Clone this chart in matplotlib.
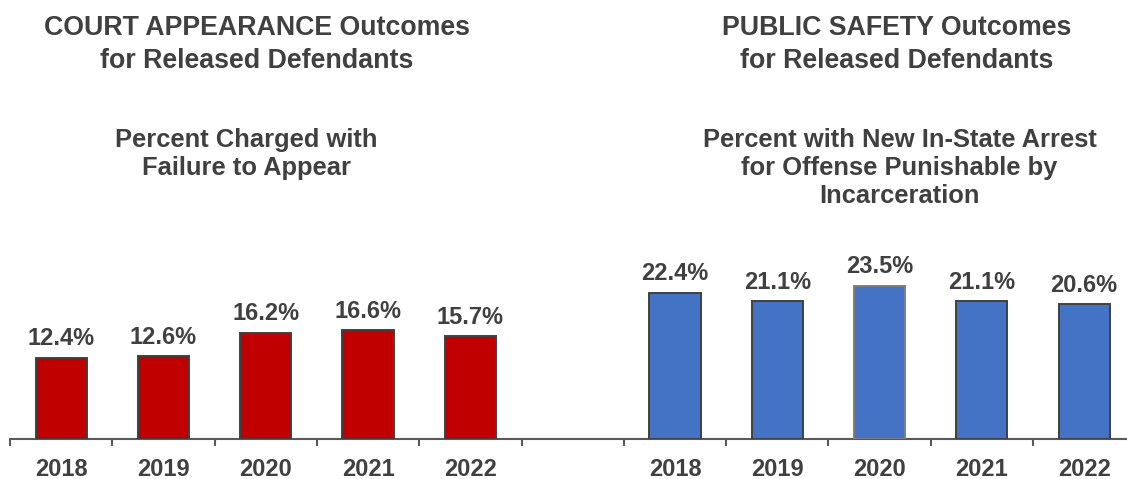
import numpy as np
import matplotlib
matplotlib.use("Agg")
import matplotlib.pyplot as plt

# Data
years = ["2018", "2019", "2020", "2021", "2022"]
fta_rates = [12.4, 12.6, 16.2, 16.6, 15.7]          # percent charged with failure to appear
arrest_rates = [22.4, 21.1, 23.5, 21.1, 20.6]       # percent with new in-state arrest

left_title = ["COURT APPEARANCE Outcomes", "for Released Defendants"]
left_sub = ["Percent Charged with", "Failure to Appear"]
right_title = ["PUBLIC SAFETY Outcomes", "for Released Defendants"]
right_sub = ["Percent with New In-State Arrest", "for Offense Punishable by", "Incarceration"]

# Style
plt.rcParams["font.family"] = ["Liberation Sans", "DejaVu Sans"]
TEXT = "#404040"
AXIS = "#595959"
RED = "#C00000"
BLUE = "#4472C4"

W, H = 1127, 479
fig = plt.figure(figsize=(W / 100, H / 100), dpi=100)

base_px = 438.5
top_px = 243.2
left_px = 10.0
slot_px = 102.3
x_max = -0.5 + (W - left_px) / slot_px

ax = fig.add_axes([left_px / W, (H - base_px) / H, 1 - left_px / W, (base_px - top_px) / H])
ax.set_xlim(-0.5, x_max)
ax.set_ylim(0, 30)

x_red = np.arange(len(years))
x_blue = np.arange(len(years)) + len(years) + 1

bw = 0.5
ax.bar(x_red, fta_rates, width=bw, color=RED, edgecolor="#404040", linewidth=1.4, zorder=3)
blue_edges = ["#404040", "#404040", "#7F7F7F", "#404040", "#404040"]
ax.bar(x_blue, arrest_rates, width=bw, color=BLUE, edgecolor=blue_edges, linewidth=1.4, zorder=3)

for xs, vals in ((x_red, fta_rates), (x_blue, arrest_rates)):
    for x, v in zip(xs, vals):
        ax.annotate(f"{v:.1f}%", (x, v), xytext=(0, 9.1), textcoords="offset points",
                    ha="center", va="baseline", fontsize=17, fontweight="bold", color=TEXT)

# Axis: only the baseline with boundary ticks
for s in ("top", "right", "left"):
    ax.spines[s].set_visible(False)
ax.spines["bottom"].set_color(AXIS)
ax.spines["bottom"].set_linewidth(1.5)
ax.set_yticks([])

ax.set_xticks(np.concatenate([x_red, x_blue]))
ax.set_xticklabels(years + years, fontsize=17, fontweight="bold", color=TEXT)
ax.tick_params(axis="x", which="major", length=0, pad=14)
ax.set_xticks(np.arange(-0.5, x_max, 1.0), minor=True)
ax.tick_params(axis="x", which="minor", length=5, width=1.5, color=AXIS, direction="out")


def fy(px):
    return 1 - px / H


def block(lines, cx, baselines, size):
    for line, b in zip(lines, baselines):
        fig.text(cx / W, fy(b), line, ha="center", va="baseline", fontsize=size,
                 fontweight="bold", color=TEXT)


block(left_title, 257, [35, 68], 19.3)
block(right_title, 897, [35, 68], 19.3)
block(left_sub, 246.5, [147, 175.5], 18.4)
block(right_sub, 899.5, [147, 175, 203], 18.4)

fig.savefig("out.png", dpi=100)
